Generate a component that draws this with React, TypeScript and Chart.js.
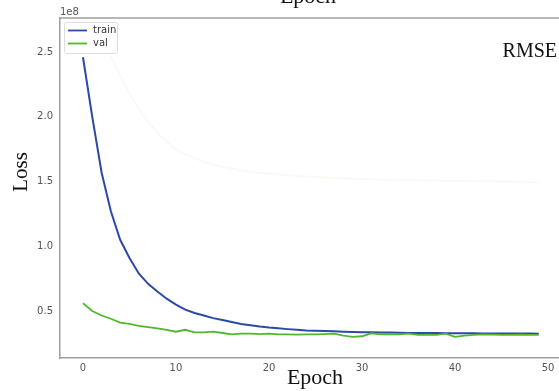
import React, { useEffect, useRef } from "react";
import { Chart, registerables } from "chart.js";

Chart.register(...registerables);

const trainLoss = [
  2.46, 2.0, 1.57, 1.27, 1.05, 0.91, 0.79, 0.71, 0.65, 0.595,
  0.55, 0.51, 0.485, 0.465, 0.445, 0.43, 0.415, 0.4, 0.39, 0.38,
  0.372, 0.366, 0.36, 0.355, 0.35, 0.348, 0.345, 0.343, 0.34, 0.338,
  0.336, 0.335, 0.334, 0.333, 0.332, 0.331, 0.331, 0.33, 0.33, 0.329,
  0.329, 0.328, 0.328, 0.327, 0.327, 0.327, 0.326, 0.326, 0.326, 0.325,
];
const valLoss = [
  0.56, 0.5, 0.465, 0.44, 0.41, 0.4, 0.385, 0.375, 0.365, 0.355,
  0.34, 0.355, 0.335, 0.335, 0.34, 0.33, 0.32, 0.325, 0.325, 0.322,
  0.325, 0.32, 0.32, 0.318, 0.32, 0.32, 0.322, 0.325, 0.31, 0.3,
  0.305, 0.328, 0.32, 0.322, 0.32, 0.325, 0.315, 0.318, 0.315, 0.325,
  0.3, 0.31, 0.315, 0.32, 0.318, 0.315, 0.315, 0.318, 0.316, 0.316,
];
const ghostEpochs = [3, 4, 5, 6, 7, 8, 9, 10, 12, 14, 16, 18, 20, 25, 30, 35, 40, 45, 49];
const ghostLoss = [2.47, 2.32, 2.18, 2.06, 1.96, 1.88, 1.81, 1.75, 1.68, 1.63, 1.6, 1.575, 1.56, 1.535, 1.52, 1.51, 1.505, 1.5, 1.495];
const xTicks = [0, 10, 20, 30, 40, 50];
const yTicks = [0.5, 1.0, 1.5, 2.0, 2.5];
const SCALE = 1e8;

const TRAIN_COLOR = "#2b4aa6";
const VAL_COLOR = "#50b82e";

export default function App() {
  const ref = useRef<HTMLCanvasElement | null>(null);

  useEffect(() => {
    document.body.style.margin = "0";
    const canvas = ref.current;
    if (!canvas) return;

    const overlay = {
      id: "overlay",
      afterDatasetsDraw(chart: any) {
        const { ctx, chartArea } = chart;
        ctx.save();
        ctx.strokeStyle = "#a0a0a0";
        ctx.lineWidth = 1.5;
        ctx.beginPath();
        ctx.moveTo(chartArea.left, chartArea.top);
        ctx.lineTo(chartArea.right, chartArea.top);
        ctx.stroke();

        const lx = 64, ly = 22, lw = 53, lh = 31;
        ctx.fillStyle = "rgba(255,255,255,0.9)";
        ctx.strokeStyle = "#dddddd";
        ctx.lineWidth = 1;
        ctx.beginPath();
        ctx.roundRect(lx + 0.5, ly + 0.5, lw, lh, 2);
        ctx.fill();
        ctx.stroke();
        const items = [
          { label: "train", color: TRAIN_COLOR, y: 30.5 },
          { label: "val", color: VAL_COLOR, y: 43.5 },
        ];
        ctx.font = "10px 'DejaVu Sans'";
        ctx.textBaseline = "middle";
        ctx.textAlign = "left";
        for (const it of items) {
          ctx.strokeStyle = it.color;
          ctx.lineWidth = 1.8;
          ctx.beginPath();
          ctx.moveTo(68, it.y);
          ctx.lineTo(87, it.y);
          ctx.stroke();
          ctx.fillStyle = "#333333";
          ctx.fillText(it.label, 93, it.y);
        }

        ctx.fillStyle = "#555555";
        ctx.font = "10px 'DejaVu Sans'";
        ctx.textAlign = "left";
        ctx.textBaseline = "alphabetic";
        ctx.fillText("1e8", 60, 15);

        ctx.fillStyle = "#111111";
        ctx.font = "20px 'Liberation Serif'";
        ctx.textAlign = "right";
        ctx.fillText("RMSE", 557, 57);

        ctx.font = "22px 'Liberation Serif'";
        ctx.textAlign = "center";
        ctx.fillText("Epoch", 315, 384);
        ctx.fillText("Epoch", 308, 3);

        ctx.save();
        ctx.translate(27, 172);
        ctx.rotate(-Math.PI / 2);
        ctx.font = "21px 'Liberation Serif'";
        ctx.textAlign = "center";
        ctx.textBaseline = "alphabetic";
        ctx.fillText("Loss", 0, 0);
        ctx.restore();

        ctx.restore();
      },
    };

    const chart = new Chart(canvas, {
      type: "line",
      data: {
        datasets: [
          {
            label: "ghost",
            data: ghostEpochs.map((e, i) => ({ x: e, y: ghostLoss[i] * SCALE })),
            borderColor: "#f9f9f6",
            borderWidth: 2,
            pointRadius: 0,
            tension: 0.3,
          },
          {
            label: "val",
            data: valLoss.map((v, i) => ({ x: i, y: v * SCALE })),
            borderColor: VAL_COLOR,
            borderWidth: 1.8,
            pointRadius: 0,
            tension: 0,
          },
          {
            label: "train",
            data: trainLoss.map((v, i) => ({ x: i, y: v * SCALE })),
            borderColor: TRAIN_COLOR,
            borderWidth: 2,
            pointRadius: 0,
            tension: 0,
          },
        ],
      },
      options: {
        responsive: false,
        animation: false,
        layout: { padding: { left: 0, top: 18, right: 0, bottom: 0 } },
        plugins: { legend: { display: false }, tooltip: { enabled: false } },
        scales: {
          x: {
            type: "linear",
            min: -2.47,
            max: 51.18,
            grid: { display: false, drawTicks: false },
            border: { display: true, color: "#a0a0a0", width: 1.5 },
            ticks: {
              color: "#555555",
              font: { family: "DejaVu Sans", size: 10 },
              padding: 4,
              maxRotation: 0,
            },
            afterBuildTicks(scale: any) {
              scale.ticks = xTicks.map((v) => ({ value: v }));
            },
            afterFit(scale: any) {
              scale.height = 33;
            },
          },
          y: {
            type: "linear",
            min: 0.137 * SCALE,
            max: 2.763 * SCALE,
            grid: { display: false, drawTicks: false },
            border: { display: true, color: "#a0a0a0", width: 1.5 },
            ticks: {
              color: "#555555",
              font: { family: "DejaVu Sans", size: 10 },
              padding: 7,
              callback: (v: any) => (Number(v) / SCALE).toFixed(1),
            },
            afterBuildTicks(scale: any) {
              scale.ticks = yTicks.map((v) => ({ value: v * SCALE }));
            },
            afterFit(scale: any) {
              scale.width = 60;
            },
          },
        },
      },
      plugins: [overlay],
    });
    return () => chart.destroy();
  }, []);

  return (
    <div style={{ position: "fixed", left: 0, top: 0, width: 559, height: 391, background: "#fff" }}>
      <canvas ref={ref} width={559} height={391} />
    </div>
  );
}
